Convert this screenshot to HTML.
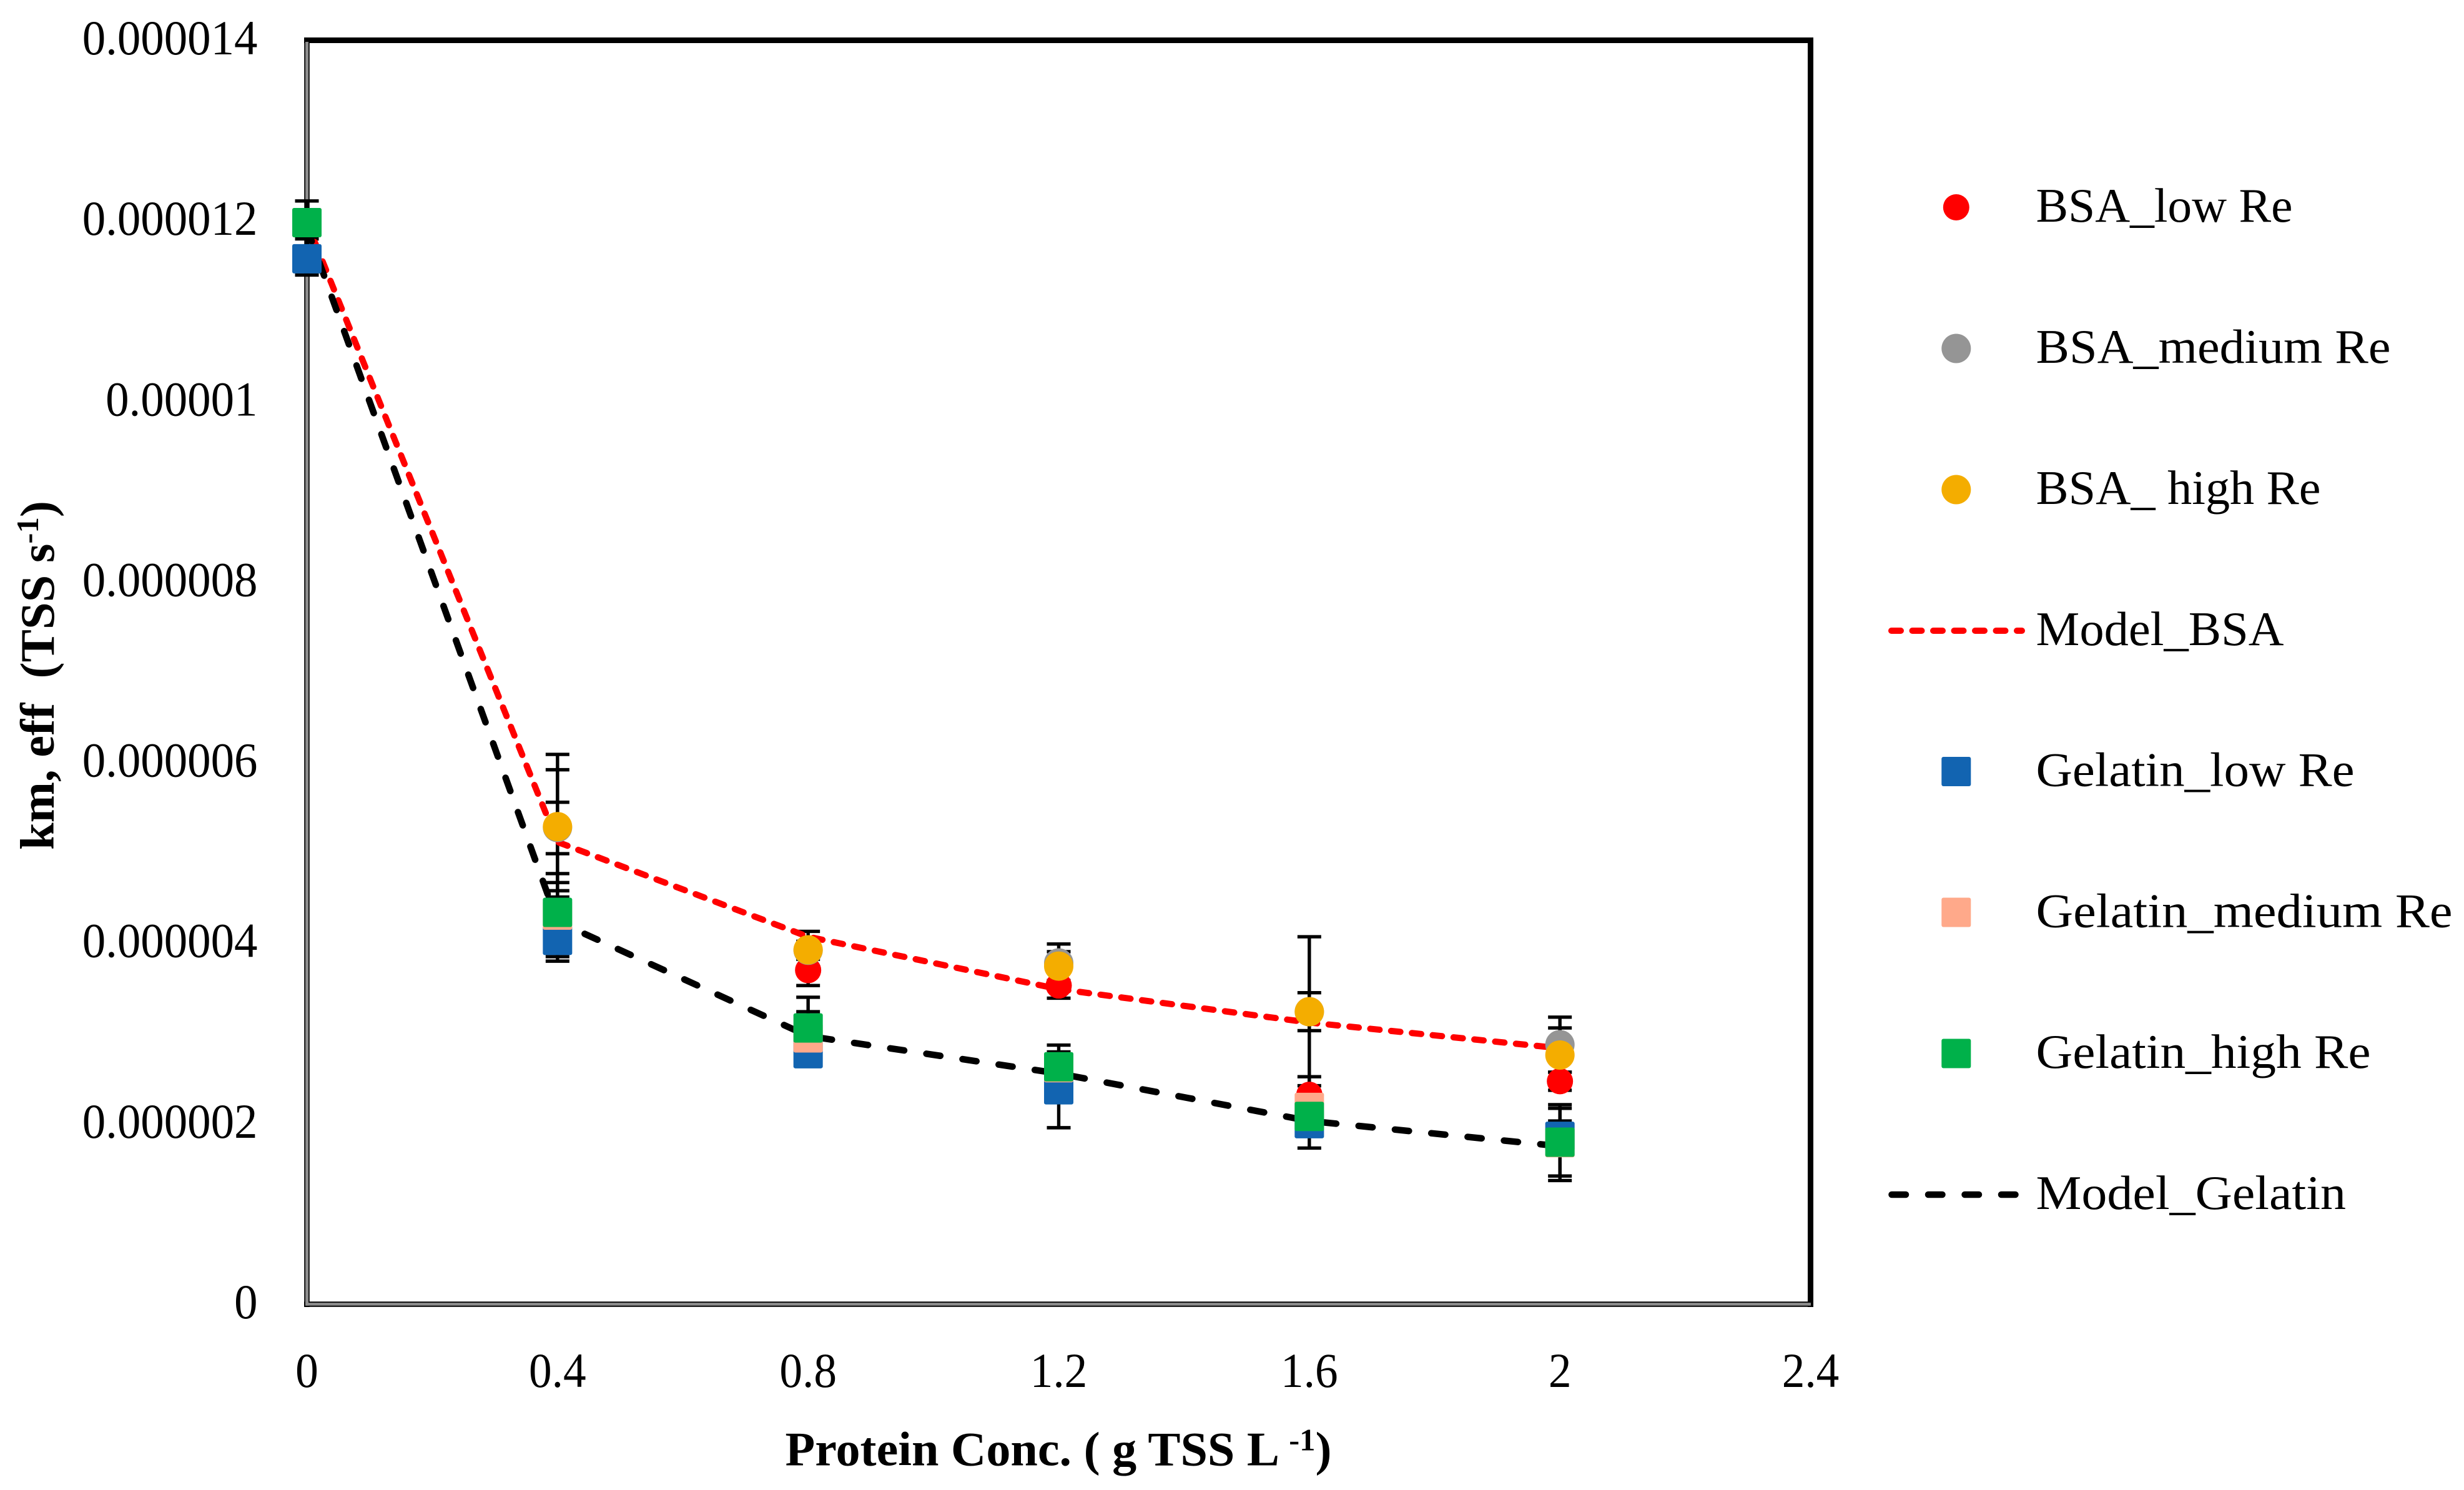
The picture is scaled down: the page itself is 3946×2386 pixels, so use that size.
<!DOCTYPE html>
<html lang="en">
<head>
<meta charset="utf-8">
<title>km,eff vs Protein Concentration</title>
<style>
html,body{margin:0;padding:0;background:#fff;width:3946px;height:2386px;overflow:hidden}
svg{display:block}
text{font-family:"Liberation Serif","DejaVu Serif",serif;fill:#000}
.leg{font-size:77px}
.axt{font-size:77px;font-weight:bold}
</style>
</head>
<body>
<svg id="chart" xmlns="http://www.w3.org/2000/svg" width="3946" height="2386" viewBox="0 0 3946 2386">
  <rect x="0" y="0" width="3946" height="2386" fill="#fff"/>
  <g id="frame">
    <line x1="487" y1="64.5" x2="2904" y2="64.5" stroke="#000" stroke-width="9"/>
    <line x1="2899.5" y1="60" x2="2899.5" y2="2093" stroke="#000" stroke-width="9"/>
    <line x1="491.5" y1="60" x2="491.5" y2="2093" stroke="#000" stroke-width="8.5"/>
    <line x1="487" y1="2088.5" x2="2904" y2="2088.5" stroke="#000" stroke-width="8.5"/>
    <line x1="491.5" y1="67" x2="491.5" y2="2090.7" stroke="#8c8c8c" stroke-width="5"/>
    <line x1="489" y1="2088.4" x2="2900" y2="2088.4" stroke="#8c8c8c" stroke-width="4.6"/>
  </g>
  <g id="yticks"></g>
  <g id="xticks"></g>
  <g id="errors"></g>
  <g id="lines"></g>
  <g id="markers"></g>

  <text class="axt" transform="translate(86,1361) rotate(-90)" xml:space="preserve" textLength="559" lengthAdjust="spacingAndGlyphs">km, eff  (TSS s<tspan font-size="50" dy="-25">-1</tspan><tspan dy="25">)</tspan></text>
  <text class="axt" x="1257.5" y="2346.5" xml:space="preserve" textLength="875" lengthAdjust="spacingAndGlyphs">Protein Conc. ( g TSS L <tspan font-size="50" dy="-24">-1</tspan><tspan dy="24">)</tspan></text>

  <g id="legend">
    <g>
      <circle cx="3132.8" cy="332" r="21" fill="#ff0000"/>
      <text class="leg" x="3260.5" y="355" textLength="411" lengthAdjust="spacingAndGlyphs">BSA_low Re</text>
    </g>
    <g>
      <circle cx="3132.8" cy="558" r="23.5" fill="#959595"/>
      <text class="leg" x="3260.5" y="581" textLength="568" lengthAdjust="spacingAndGlyphs">BSA_medium Re</text>
    </g>
    <g>
      <circle cx="3132.8" cy="784" r="23.5" fill="#f4ad00"/>
      <text class="leg" x="3260.5" y="807" textLength="456" lengthAdjust="spacingAndGlyphs">BSA_ high Re</text>
    </g>
    <g>
      <line x1="3029" y1="1010" x2="3238" y2="1010" stroke="#ff0000" stroke-width="10" stroke-linecap="round" stroke-dasharray="15 18.5"/>
      <text class="leg" x="3260.5" y="1033" textLength="397" lengthAdjust="spacingAndGlyphs">Model_BSA</text>
    </g>
    <g>
      <rect x="3109.3" y="1212" width="47" height="47" rx="3" fill="#1264b1"/>
      <text class="leg" x="3260.5" y="1258.5" textLength="510" lengthAdjust="spacingAndGlyphs">Gelatin_low Re</text>
    </g>
    <g>
      <rect x="3109.3" y="1437.5" width="47" height="47" rx="3" fill="#ffa98a"/>
      <text class="leg" x="3260.5" y="1484.5" textLength="667" lengthAdjust="spacingAndGlyphs">Gelatin_medium Re</text>
    </g>
    <g>
      <rect x="3109.3" y="1663.5" width="47" height="47" rx="3" fill="#00b14a"/>
      <text class="leg" x="3260.5" y="1710" textLength="536" lengthAdjust="spacingAndGlyphs">Gelatin_high Re</text>
    </g>
    <g>
      <line x1="3029.5" y1="1913" x2="3228" y2="1913" stroke="#000" stroke-width="10.5" stroke-linecap="round" stroke-dasharray="22.5 36"/>
      <text class="leg" x="3260.5" y="1936" textLength="496.5" lengthAdjust="spacingAndGlyphs">Model_Gelatin</text>
    </g>
  </g>
</svg>
<script>
// Categories and tick labels
const concentrations = [0, 0.4, 0.8, 1.2, 1.6, 2];
const xTickValues = [0, 0.4, 0.8, 1.2, 1.6, 2, 2.4];
const xTickLabels = ['0', '0.4', '0.8', '1.2', '1.6', '2', '2.4'];
const yTickValues = [0, 2, 4, 6, 8, 10, 12, 14];
const yTickLabels = ['0', '0.000002', '0.000004', '0.000006', '0.000008', '0.00001', '0.000012', '0.000014'];

// Series values, in units of 1e-6
const bsaLow = [11.98, 5.28, 3.70, 3.53, 2.32, 2.47];
const bsaLowHigh = [12.07, 5.56, 3.87, 3.67, 2.52, 2.57];
const bsaLowLow = [11.87, 4.99, 3.53, 3.39, 2.12, 2.37];

const bsaMedium = [11.98, 5.28, 3.92, 3.78, 3.24, 2.875];
const bsaMediumHigh = [12.07, 5.92, 4.02, 3.99, 3.45, 3.18];
const bsaMediumLow = [11.87, 4.67, 3.82, 3.57, 3.03, 2.57];

const bsaHigh = [11.98, 5.29, 3.925, 3.745, 3.24, 2.76];
const bsaHighHigh = [12.07, 6.09, 4.13, 3.905, 4.07, 3.06];
const bsaHighLow = [11.87, 4.51, 3.72, 3.585, 2.42, 2.46];

const modelBsa = [11.98, 5.12, 4.07, 3.49, 3.12, 2.835];

const gelatinLow = [11.58, 4.03, 2.775, 2.375, 2.00, 1.86];
const gelatinLowHigh = [11.80, 4.26, 2.875, 2.795, 2.27, 2.03];
const gelatinLowLow = [11.40, 3.80, 2.675, 1.955, 1.73, 1.69];

const gelatinMedium = [11.98, 4.31, 2.95, 2.62, 2.18, 1.79];
const gelatinMediumHigh = [12.07, 4.77, 3.24, 2.72, 2.28, 2.21];
const gelatinMediumLow = [11.87, 3.85, 2.66, 2.52, 2.08, 1.37];

const gelatinHigh = [11.98, 4.34, 3.06, 2.63, 2.08, 1.795];
const gelatinHighHigh = [12.22, 4.58, 3.40, 2.87, 2.18, 2.17];
const gelatinHighLow = [11.72, 4.10, 2.72, 2.39, 1.98, 1.42];

const modelGelatin = [11.92, 4.24, 2.97, 2.555, 2.03, 1.75];

const SVGNS = 'http://www.w3.org/2000/svg';
const xAxis = v => 491.5 + v * (2899.5 - 491.5) / 2.4;
const yAxis = v => 2088.5 - v * (2088.5 - 64.5) / 14;

function make(tag, parent, attrs) {
  const el = document.createElementNS(SVGNS, tag);
  for (const k in attrs) el.setAttribute(k, attrs[k]);
  parent.appendChild(el);
  return el;
}

// Tick labels
const yGroup = document.getElementById('yticks');
yTickLabels.forEach((label, i) => {
  const el = make('text', yGroup, {x: 412.5, y: yAxis(yTickValues[i]) + 22.5, 'text-anchor': 'end', 'font-size': 78});
  
  
  el.textContent = label;
  el.setAttribute('textLength', (el.getComputedTextLength() * 0.96).toFixed(1));
  el.setAttribute('lengthAdjust', 'spacingAndGlyphs');
});
const xGroup = document.getElementById('xticks');
xTickLabels.forEach((label, i) => {
  const el = make('text', xGroup, {x: xAxis(xTickValues[i]), y: 2221, 'text-anchor': 'middle', 'font-size': 78});
  
  
  el.textContent = label;
  el.setAttribute('textLength', (el.getComputedTextLength() * 0.94).toFixed(1));
  el.setAttribute('lengthAdjust', 'spacingAndGlyphs');
});

// Error bars
const errorSeries = [
  [bsaLowHigh, bsaLowLow],
  [bsaMediumHigh, bsaMediumLow],
  [bsaHighHigh, bsaHighLow],
  [gelatinLowHigh, gelatinLowLow],
  [gelatinMediumHigh, gelatinMediumLow],
  [gelatinHighHigh, gelatinHighLow]
];
const errGroup = document.getElementById('errors');
errorSeries.forEach(pair => {
  concentrations.forEach((c, i) => {
    const px = xAxis(c);
    const stem = make('line', errGroup, {x1: px, x2: px, y1: yAxis(pair[0][i]), y2: yAxis(pair[1][i]), stroke: '#000', 'stroke-width': 5.4});
    
    
    const capTop = make('line', errGroup, {x1: px - 19, x2: px + 19, y1: yAxis(pair[0][i]), y2: yAxis(pair[0][i]), stroke: '#000', 'stroke-width': 5.4});
    
    
    const capLow = make('line', errGroup, {x1: px - 19, x2: px + 19, y1: yAxis(pair[1][i]), y2: yAxis(pair[1][i]), stroke: '#000', 'stroke-width': 5.4});
    
    
  });
});

// Model lines
const lineGroup = document.getElementById('lines');
function linePoints(values) {
  return values.map((v, i) => xAxis(concentrations[i]).toFixed(1) + ',' + yAxis(v).toFixed(1)).join(' ');
}
const redLine = make('polyline', lineGroup, {points: linePoints(modelBsa), fill: 'none', stroke: '#ff0000', 'stroke-width': 10, 'stroke-linecap': 'round', 'stroke-linejoin': 'round', 'stroke-dasharray': '15 18.5'});


const blackLine = make('polyline', lineGroup, {points: linePoints(modelGelatin), fill: 'none', stroke: '#000', 'stroke-width': 10.5, 'stroke-linecap': 'round', 'stroke-linejoin': 'round', 'stroke-dasharray': '22.5 36'});



// Markers
const markerGroup = document.getElementById('markers');
function drawCircles(values, color, radius, name) {
  values.forEach((v, i) => {
    const el = make('circle', markerGroup, {cx: xAxis(concentrations[i]), cy: yAxis(v), r: radius, fill: color});
    
    
  });
}
function drawSquares(values, color, name) {
  values.forEach((v, i) => {
    const el = make('rect', markerGroup, {x: xAxis(concentrations[i]) - 23.5, y: yAxis(v) - 23.5, width: 47, height: 47, rx: 3, fill: color});
    
    
  });
}
drawCircles(bsaLow, '#ff0000', 21, 'point-bsa-low-re');
drawCircles(bsaMedium, '#959595', 23.5, 'point-bsa-medium-re');
drawCircles(bsaHigh, '#f4ad00', 23.5, 'point-bsa-high-re');
drawSquares(gelatinLow, '#1264b1', 'point-gelatin-low-re');
drawSquares(gelatinMedium, '#ffa98a', 'point-gelatin-medium-re');
drawSquares(gelatinHigh, '#00b14a', 'point-gelatin-high-re');
</script>
</body>
</html>
